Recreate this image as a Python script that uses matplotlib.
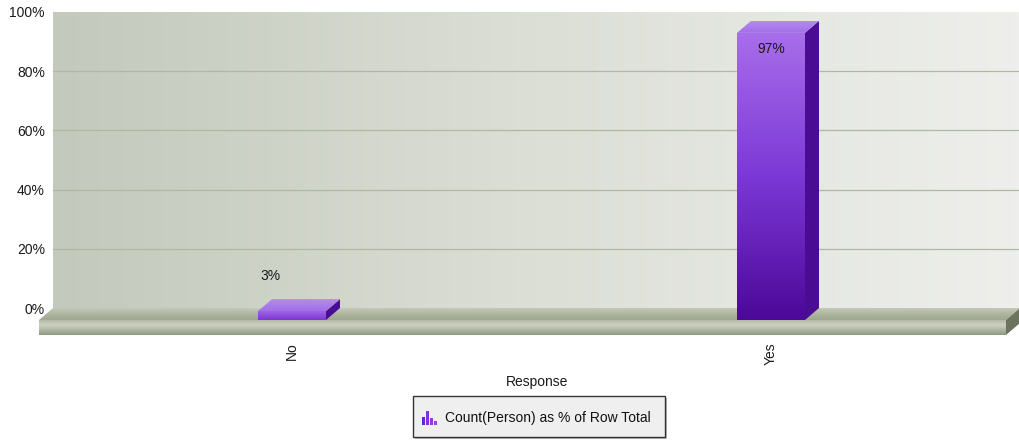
import numpy as np
import matplotlib
matplotlib.use("Agg")
import matplotlib.pyplot as plt
from matplotlib.patches import Polygon, Rectangle
from matplotlib.colors import LinearSegmentedColormap

plt.rcParams['font.family'] = ['Liberation Sans', 'DejaVu Sans']

categories = ["No", "Yes"]
values = [3, 97]
value_labels = ["3%", "97%"]
yticks = [0, 20, 40, 60, 80, 100]
ytick_labels = ["0%", "20%", "40%", "60%", "80%", "100%"]
x_label = "Response"
legend_label = "Count(Person) as % of Row Total"

W_PX, H_PX, DPI = 1020, 440, 100
fig = plt.figure(figsize=(W_PX / DPI, H_PX / DPI), dpi=DPI)

# geometry (pixels)
ax_left_px, ax_right_px = 38, 1021
wall_top_px, wall_zero_px = 12, 308
depth_x_px, depth_y_px = 14, 12
slab_px = 15
ax_bottom_px = wall_zero_px + depth_y_px + slab_px
px_per_unit = 479.0
first_center_px = 306
px_per_pct = (wall_zero_px - wall_top_px) / 100.0

xmin = (ax_left_px - first_center_px) / px_per_unit
xmax = (ax_right_px - first_center_px) / px_per_unit
ymin = -(depth_y_px + slab_px) / px_per_pct

ax = fig.add_axes([ax_left_px / W_PX, 1 - ax_bottom_px / H_PX,
                   (ax_right_px - ax_left_px) / W_PX,
                   (ax_bottom_px - wall_top_px) / H_PX])
ax.set_xlim(xmin, xmax)
ax.set_ylim(ymin, 100)
for s in ax.spines.values():
    s.set_visible(False)
ax.patch.set_alpha(0)

DX = depth_x_px / px_per_unit
DY = depth_y_px / px_per_pct
T = slab_px / px_per_pct
wall_l = (53 - first_center_px) / px_per_unit
wall_r = (1020 - first_center_px) / px_per_unit
BW = 68 / px_per_unit


def grad_poly(verts, colors, horizontal=False, z=2):
    """colors go left->right (horizontal) or top->bottom (vertical)."""
    verts = np.asarray(verts)
    poly = Polygon(verts, closed=True, facecolor='none', edgecolor='none', zorder=z)
    ax.add_patch(poly)
    cmap = LinearSegmentedColormap.from_list('g', colors)
    g = np.linspace(0, 1, 256)
    img = g[None, :] if horizontal else g[:, None]
    x0, x1 = verts[:, 0].min(), verts[:, 0].max()
    y0, y1 = verts[:, 1].min(), verts[:, 1].max()
    im = ax.imshow(img, cmap=cmap, extent=(x0, x1, y0, y1), origin='upper',
                   aspect='auto', interpolation='bilinear', zorder=z)
    im.set_clip_path(poly)
    return im

# back wall
grad_poly([(wall_l, 0), (wall_l, 100), (wall_r, 100), (wall_r, 0)],
          ['#c3c9bc', '#dcdfd6', '#eeefec'], horizontal=True, z=0)
for yv in yticks[1:-1]:
    ax.plot([wall_l, wall_r], [yv, yv], color='#b0b8a2', lw=0.9, zorder=1)

# floor top surface (top -> bottom gradient)
grad_poly([(wall_l, 0), (wall_r, 0), (wall_r - DX, -DY), (wall_l - DX, -DY)],
          ['#c4cab8', '#adb49f', '#9fa790'], z=1)
# floor front face
grad_poly([(wall_l - DX, -DY), (wall_r - DX, -DY), (wall_r - DX, -DY - T), (wall_l - DX, -DY - T)],
          ['#b4baa6', '#cdd1c3', '#afb5a1', '#8e9680'], z=1)
# floor right side
ax.add_patch(Polygon([(wall_r - DX, -DY), (wall_r, 0), (wall_r, -T), (wall_r - DX, -DY - T)],
                     closed=True, facecolor='#6c7460', edgecolor='none', zorder=1))

# bars
for i, (v, lab) in enumerate(zip(values, value_labels)):
    l, r = i - BW / 2, i + BW / 2
    # front face
    grad_poly([(l - DX, -DY), (l - DX, v - DY), (r - DX, v - DY), (r - DX, -DY)],
              ['#a86eea', '#7c38d6', '#4c0898'] if v > 20 else ['#a064e6', '#7a36d2'], z=3)
    # side face
    ax.add_patch(Polygon([(r - DX, -DY), (r - DX, v - DY), (r, v), (r, 0)], closed=True,
                         facecolor='#4a0c92', edgecolor='none', zorder=3))
    # top face
    grad_poly([(l - DX, v - DY), (l, v), (r, v), (r - DX, v - DY)],
              ['#b48af0', '#a070e8'], z=3)
    if v > 20:
        ax.text(i - DX, v - DY - 5.5, lab, ha='center', va='center', fontsize=10,
                color='#1a1a1a', zorder=5)
    else:
        ax.text(i - DX - 22 / px_per_unit, v + 7.8, lab, ha='center', va='center',
                fontsize=10, color='#1a1a1a', zorder=5)

# axes ticks
ax.set_yticks(yticks)
ax.set_yticklabels(ytick_labels, fontsize=10, color='#1a1a1a')
ax.tick_params(axis='y', length=0, pad=-(53 - ax_left_px) + 10)
ax.set_xticks([i - DX for i in range(len(categories))])
ax.set_xticklabels(categories, rotation=90, fontsize=10, color='#1a1a1a')
ax.tick_params(axis='x', length=0, pad=5)
ax.set_xlabel(x_label, fontsize=10, color='#1a1a1a')
ax.xaxis.set_label_coords((537 - ax_left_px) / (ax_right_px - ax_left_px),
                          -(382 - ax_bottom_px) / (ax_bottom_px - wall_top_px))
ax.xaxis.label.set_va('center')

# legend (figure overlay)
lax = fig.add_axes([0, 0, 1, 1])
lax.set_xlim(0, W_PX)
lax.set_ylim(H_PX, 0)
lax.axis('off')
lax.add_patch(Rectangle((415, 398), 252, 41, facecolor='#bbbbbb', edgecolor='none', zorder=1))
lax.add_patch(Rectangle((413, 396), 252, 41, facecolor='#efefef', edgecolor='#333333', lw=1.0, zorder=2))
icon_h = [8, 14, 7, 4]
icon_c = ['#5a2ad0', '#8230e0', '#9838e0', '#a040e0']
for k, (h, c) in enumerate(zip(icon_h, icon_c)):
    lax.add_patch(Rectangle((422 + k * 4, 425 - h), 3.5, h, facecolor=c, edgecolor='none', zorder=3))
lax.text(445, 418, legend_label, ha='left', va='center', fontsize=10, color='#111111', zorder=3)

fig.savefig('out.png', dpi=DPI)
